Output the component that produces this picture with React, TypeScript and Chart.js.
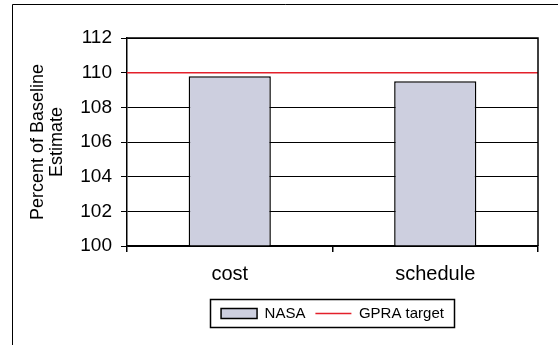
import React, { useEffect, useRef } from "react";
import { Chart, registerables } from "chart.js";

Chart.register(...registerables);

const categories: string[] = ["cost", "schedule"];
const nasaValues: number[] = [109.8, 109.5];
const targetValue = 110;
const yTicks = { min: 100, max: 112, step: 2 };
const yTitle: string[] = ["Percent of Baseline", "Estimate"];
const seriesNames = { bar: "NASA", line: "GPRA target" };

const FONT = "'Liberation Sans', Arial, Helvetica, sans-serif";
const BAR_FILL = "#cdcfdf";
const RED = "#e3202b";

const framePlugin = {
  id: "frame",
  beforeDraw(chart: any) {
    const { ctx, width, height } = chart;
    ctx.save();
    ctx.fillStyle = "#fff";
    ctx.fillRect(0, 0, width, height);
    ctx.strokeStyle = "#000";
    ctx.lineWidth = 1;
    ctx.beginPath();
    ctx.moveTo(12.5, height + 2);
    ctx.lineTo(12.5, 4.5);
    ctx.lineTo(width + 2, 4.5);
    ctx.stroke();
    ctx.restore();
  },
  afterDraw(chart: any) {
    const { ctx, chartArea } = chart;
    ctx.save();
    ctx.strokeStyle = "#000";
    ctx.lineWidth = 1.5;
    ctx.beginPath();
    ctx.moveTo(chartArea.left, chartArea.top);
    ctx.lineTo(chartArea.right, chartArea.top);
    ctx.lineTo(chartArea.right, chartArea.bottom);
    ctx.stroke();
    // legend border
    const lg = chart.legend;
    if (lg && lg.legendHitBoxes && lg.legendHitBoxes.length) {
      const hb = lg.legendHitBoxes;
      let l = Infinity, r = -Infinity, t = Infinity, b = -Infinity;
      hb.forEach((h: any) => {
        l = Math.min(l, h.left);
        r = Math.max(r, h.left + h.width);
        t = Math.min(t, h.top);
        b = Math.max(b, h.top + h.height);
      });
      ctx.lineWidth = 1.5;
      ctx.strokeRect(Math.round(l - 11) + 0.5, Math.round(t - 7) + 0.5, Math.round(r - l + 21), Math.round(b - t + 13));
    }
    ctx.restore();
  },
};

export default function App() {
  const ref = useRef<HTMLCanvasElement | null>(null);

  useEffect(() => {
    document.body.style.margin = "0";
    Chart.defaults.font.family = FONT;
    const chart = new Chart(ref.current as HTMLCanvasElement, {
      type: "bar",
      data: {
        labels: categories,
        datasets: [
          {
            type: "bar",
            label: seriesNames.bar,
            data: nasaValues,
            base: yTicks.min,
            grouped: false,
            backgroundColor: BAR_FILL,
            borderColor: "#000",
            borderWidth: 1.5,
            barPercentage: 0.4,
            categoryPercentage: 1,
          } as any,
          {
            type: "line",
            label: seriesNames.line,
            data: [
              { x: 0, y: targetValue },
              { x: 1, y: targetValue },
            ],
            xAxisID: "xLine",
            borderColor: RED,
            borderWidth: 1.5,
            pointRadius: 0,
            fill: false,
          } as any,
        ],
      },
      options: {
        animation: false,
        responsive: false,
        layout: { padding: { left: 13, top: 38, right: 20, bottom: 14 } },
        plugins: {
          tooltip: { enabled: false },
          legend: {
            position: "bottom",
            fullSize: false,
            labels: {
              color: "#000",
              font: { size: 15 },
              usePointStyle: true,
              pointStyleWidth: 36,
              boxWidth: 36,
              boxHeight: 10,
              padding: 10,
              generateLabels: (c: any) =>
                c.data.datasets.map((ds: any, i: number) =>
                  i === 0
                    ? {
                        text: ds.label,
                        fillStyle: BAR_FILL,
                        strokeStyle: "#000",
                        lineWidth: 1.5,
                        pointStyle: "rect",
                        hidden: false,
                        datasetIndex: i,
                        fontColor: "#000",
                      }
                    : {
                        text: ds.label,
                        fillStyle: RED,
                        strokeStyle: RED,
                        lineWidth: 1.5,
                        pointStyle: "line",
                        hidden: false,
                        datasetIndex: i,
                        fontColor: "#000",
                      }
                ),
            },
          },
        },
        scales: {
          x: {
            type: "category",
            offset: true,
            grid: {
              display: true,
              drawOnChartArea: false,
              offset: true,
              color: "#000",
              tickLength: 6,
              lineWidth: 1.5,
            },
            border: { display: true, color: "#000", width: 1.5 },
            ticks: { color: "#000", font: { size: 20 }, padding: 10 },
            afterFit: (s: any) => {
              s.height = 50;
            },
          } as any,
          xLine: {
            type: "linear",
            min: 0,
            max: 1,
            offset: false,
            display: false,
          } as any,
          y: {
            min: yTicks.min,
            max: yTicks.max,
            ticks: { stepSize: yTicks.step, color: "#000", font: { size: 19 }, padding: 9 },
            grid: { color: "#000", lineWidth: 1, tickLength: 6 },
            border: { display: true, color: "#000", width: 1.5 },
            title: {
              display: true,
              text: yTitle,
              color: "#000",
              font: { size: 18, lineHeight: 1.05 },
              padding: { top: 16, bottom: 0 },
            },
            afterFit: (s: any) => {
              s.width = 114;
            },
          } as any,
        },
      },
      plugins: [framePlugin],
    });
    return () => chart.destroy();
  }, []);

  return (
    <div style={{ position: "fixed", left: 0, top: 0, width: 558, height: 345, background: "#fff" }}>
      <canvas ref={ref} width={558} height={345} style={{ display: "block" }} />
    </div>
  );
}
